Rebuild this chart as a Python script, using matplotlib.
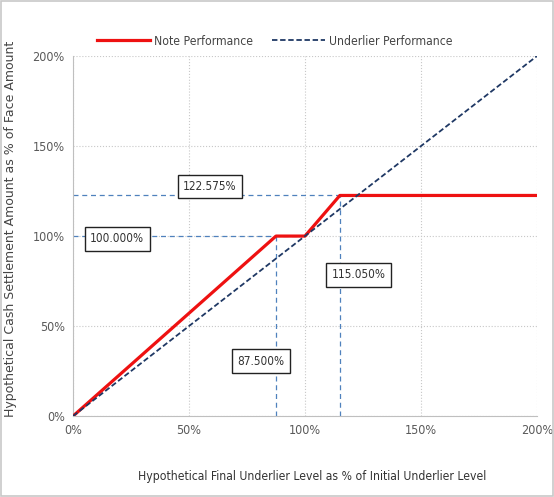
import matplotlib
matplotlib.use('Agg')
import matplotlib.pyplot as plt
from matplotlib.patches import Rectangle
from matplotlib.ticker import FuncFormatter

# hypothetical final underlier level (%) and note payoff (%)
note_x = [0, 87.5, 100, 115.05, 200]
note_y = [0, 100, 100, 122.575, 122.575]
under_x = [0, 200]
under_y = [0, 200]

ticks = [0, 50, 100, 150, 200]

# annotation boxes: text, x, y (data units)
labels = [
    ('122.575%', 59, 127.5),
    ('100.000%', 19, 98.5),
    ('115.050%', 123, 78.5),
    ('87.500%', 81, 30.5),
]

plt.rcParams['font.family'] = ['DejaVu Sans']
plt.rcParams['font.stretch'] = 'condensed'

fig = plt.figure(figsize=(5.54, 4.97), dpi=100)
ax = fig.add_axes([0.132, 0.163, 0.837, 0.724])

fig.patches.append(Rectangle((0.002, 0.002), 0.996, 0.996, transform=fig.transFigure,
                             fill=False, edgecolor='#c8c8c8', linewidth=1.2))

ref = dict(color='#4f81bd', linestyle=(0, (4, 3)), linewidth=0.9)
ax.plot([0, 115.05], [122.575, 122.575], **ref)
ax.plot([0, 100], [100, 100], **ref)
ax.plot([87.5, 87.5], [0, 100], **ref)
ax.plot([115.05, 115.05], [0, 122.575], **ref)

ax.plot(note_x, note_y, color='#ee1111', linewidth=2.3, label='Note Performance', zorder=4)
ax.plot(under_x, under_y, color='#1f3864', linestyle=(0, (3, 1.5)), linewidth=1.3,
        label='Underlier Performance', zorder=5)

for txt, x, y in labels:
    ax.text(x, y, txt, ha='center', va='center', fontsize=8.5, color='#333333',
            zorder=6,
            bbox=dict(boxstyle='square,pad=0.45', facecolor='white', edgecolor='#222222', linewidth=1))

ax.set_xlim(0, 200)
ax.set_ylim(0, 200)
ax.set_xticks(ticks)
ax.set_yticks(ticks)
fmt = FuncFormatter(lambda v, p: '%d%%' % v)
ax.xaxis.set_major_formatter(fmt)
ax.yaxis.set_major_formatter(fmt)
ax.tick_params(length=0, labelsize=9, labelcolor='#595959', pad=6)
ax.grid(True, color='#c8c8c8', linestyle=':', linewidth=0.8)
for s in ['top', 'right']:
    ax.spines[s].set_visible(False)
for s in ['left', 'bottom']:
    ax.spines[s].set_color('#bfbfbf')

ax.set_xlabel('Hypothetical Final Underlier Level as % of Initial Underlier Level',
              fontsize=8.7, color='#333333')
ax.xaxis.set_label_coords(0.515, -0.15)
ax.set_ylabel('Hypothetical Cash Settlement Amount as % of Face Amount',
              fontsize=9, color='#444444', fontstretch='normal')
ax.yaxis.set_label_coords(-0.12, 0.52)

ax.legend(loc='lower center', bbox_to_anchor=(0.435, 1.0), ncol=2, frameon=False,
          fontsize=8.7, handlelength=4.4, handletextpad=0.3, columnspacing=1.6,
          labelcolor='#444444', borderaxespad=0.3)

fig.savefig('out.png', dpi=100)
